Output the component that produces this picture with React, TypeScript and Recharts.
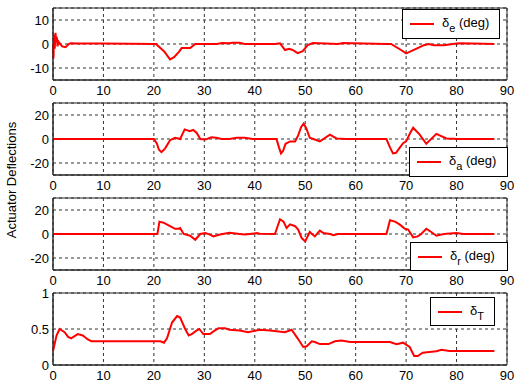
import React from 'react';
import { LineChart, Line, XAxis, YAxis, CartesianGrid, Legend, ReferenceArea } from 'recharts';

// time axis (s) shared by every panel
const timeTicks = [0, 10, 20, 30, 40, 50, 60, 70, 80, 90];

// elevator deflection, deg
const elevatorTime = [0, 0.1, 0.2, 0.35, 0.5, 0.6, 0.75, 0.9, 1.1, 1.8, 2.5, 3.1, 3.5, 5, 10, 20, 20.4, 22, 23.2, 24, 25, 25.5, 27.2, 28.2, 30, 32.5, 33.5, 35, 35.5, 37, 38, 44, 45, 46, 46.8, 47.5, 48.5, 49.5, 50.5, 51.5, 56.5, 57.5, 66, 67, 69, 70, 71, 72.5, 73.5, 74.5, 75.5, 77.5, 80, 81, 87.5];
const elevatorDeg = [0, -6, 4, -2, 4.7, 1, 3, -1, 1, -1, -1.3, 0, 0.3, 0.2, 0.2, 0, 0, -3, -6.4, -5.5, -3.2, -1.7, -1.7, 0, 0, 0, 0.4, 0.3, 0.5, 0.5, 0, 0, 0.3, -2.5, -2, -2.5, -3.8, -3, -0.5, 0.4, 0, 0.4, 0, 0, -2.5, -3.9, -3, -1.5, -0.5, 0, -0.5, -0.5, 0.2, 0.3, 0, 0];

// aileron deflection, deg
const aileronTime = [0, 20, 20.6, 21, 21.5, 22.2, 23.2, 24.2, 25.2, 26.1, 27.1, 27.8, 28.5, 29.2, 30.2, 31.4, 32.4, 33.4, 35, 36.4, 38, 39.6, 44.3, 44.8, 45.2, 45.6, 46.1, 47, 48, 48.6, 49.2, 49.7, 50.2, 50.9, 51.6, 52.9, 54.9, 56.2, 58.1, 66.1, 66.8, 67.4, 68, 68.6, 69.4, 70, 70.8, 71.4, 72.7, 74, 76, 78, 80.3, 87.5];
const aileronDeg = [0, 0, -4, -9, -11, -8, -1, 1, 0, 8, 6.5, 7.5, 5, 0, -0.5, 1.5, 1, 0, 0, 1, 1, 0, 0, -7, -12, -10, -4, -2, -2, 3, 10, 12.8, 9, 1, 0, -2, 3.7, 0.5, 0, 0, -7, -12, -11.5, -8, -3.5, -2, 5, 9.4, 3.7, -4, 4.3, 0.5, 0, 0];

// rudder deflection, deg
const rudderTime = [0, 20.3, 20.7, 21.1, 21.9, 23.2, 24.2, 24.8, 25.2, 25.9, 27.2, 28.2, 29.2, 30.2, 31.1, 31.8, 33.1, 35, 37, 38, 39, 40.4, 41, 44, 45, 45.7, 46.3, 47, 48, 48.6, 49.3, 50, 50.9, 51.9, 52.9, 53.6, 54.9, 55.6, 56.5, 66.1, 66.8, 67.8, 68.7, 69.7, 70.4, 71.4, 72.3, 73, 74, 75, 76, 77, 78, 80, 81.3, 87.5];
const rudderDeg = [0, 0, 0, 10.3, 9.4, 6.5, 4.3, 4.3, 5, 0, -1.4, -4.8, 0, 0.8, -0.5, -2, -0.5, 1, 0, -0.5, 0, 0.8, 0.3, 0, 12.3, 10.3, 5, 8, 6.5, 3.7, -3.4, -6.2, 1.7, -2, 2.8, 0.8, 0, -1, 0, 0, 11.4, 10.3, 8, 4.5, 3.7, -2.8, -2, 0, 4.3, 1.7, -1.4, -0.5, 0.3, 0.8, 0, 0];

// throttle setting, normalised
const throttleTime = [0, 0.7, 1.3, 2.3, 3, 3.6, 4.9, 5.9, 6.9, 7.6, 21.3, 22, 22.6, 23.6, 24.6, 25.2, 26.2, 26.9, 27.5, 28.5, 29, 29.8, 31.1, 32.1, 32.8, 34.1, 35, 37, 38.7, 41, 43, 46, 47.3, 48.6, 49.6, 50.3, 51.3, 51.9, 52.9, 54.6, 55.9, 57.2, 58.9, 66.8, 68.1, 69.4, 70.7, 71.6, 72.3, 73.3, 74.6, 76, 77, 78.6, 87.5];
const throttleVal = [0.195, 0.41, 0.5, 0.455, 0.39, 0.37, 0.43, 0.41, 0.355, 0.33, 0.33, 0.31, 0.37, 0.59, 0.68, 0.66, 0.5, 0.41, 0.43, 0.48, 0.5, 0.43, 0.43, 0.48, 0.51, 0.51, 0.49, 0.48, 0.455, 0.49, 0.48, 0.455, 0.49, 0.36, 0.25, 0.26, 0.33, 0.32, 0.29, 0.29, 0.33, 0.34, 0.32, 0.32, 0.29, 0.31, 0.25, 0.125, 0.125, 0.17, 0.18, 0.19, 0.21, 0.195, 0.195];

const FONT = '"Liberation Sans", Arial, Helvetica, sans-serif';
const AXIS = '#262626';

const toPoints = (t: number[], v: number[]) => t.map((x, i) => ({ t: x, v: v[i] }));

type LegendSpec = { left: number; top: number; width: number; height: number; sub: string; unit: string };

const LegendBox = ({ spec }: { spec: LegendSpec }) => (
  <div
    style={{
      position: 'relative',
      width: spec.width,
      height: spec.height,
      boxSizing: 'border-box',
      border: '1px solid #000',
      background: '#fff',
      fontFamily: FONT,
      fontSize: 13,
      color: '#000',
    }}
  >
    <div style={{ position: 'absolute', left: 7, width: 24, top: spec.height / 2 - 2, height: 2, background: '#ff0000' }} />
    <span style={{ position: 'absolute', left: 39, top: spec.height / 2 - 10, whiteSpace: 'nowrap', lineHeight: '16px' }}>
      δ<span style={{ fontSize: 11, position: 'relative', top: 5 }}>{spec.sub}</span>
      {spec.unit}
    </span>
  </div>
);

type PanelProps = {
  top: number;
  data: { t: number; v: number }[];
  domain: [number, number];
  ticks: number[];
  legend: LegendSpec;
};

const Panel = ({ top, data, domain, ticks, legend }: PanelProps) => (
  <div style={{ position: 'absolute', left: 0, top }}>
    <LineChart width={514} height={100} data={data} margin={{ top: 8, right: 7, bottom: 0, left: 0 }}>
      <CartesianGrid stroke="#333" strokeDasharray="3 3" />
      <XAxis
        dataKey="t"
        type="number"
        domain={[0, 90]}
        ticks={timeTicks}
        height={20}
        stroke={AXIS}
        tickLine={false}
        tickSize={6}
        tickMargin={0}
        tick={{ fill: '#000', fontSize: 13, fontFamily: FONT }}
        interval={0}
      />
      <YAxis
        type="number"
        domain={domain}
        ticks={ticks}
        width={53}
        stroke={AXIS}
        tickLine={false}
        tickSize={4}
        tickMargin={0}
        tick={{ fill: '#000', fontSize: 13, fontFamily: FONT }}
        interval={0}
      />
      <Line type="linear" dataKey="v" stroke="#ff0000" strokeWidth={2} dot={false} isAnimationActive={false} />
      <ReferenceArea x1={0} x2={90} y1={domain[0]} y2={domain[1]} fill="none" stroke={AXIS} strokeWidth={1} />
      <Legend
        layout="horizontal"
        verticalAlign="middle"
        align="center"
        wrapperStyle={{ left: legend.left, top: legend.top, width: legend.width, height: legend.height }}
        content={() => <LegendBox spec={legend} />}
      />
    </LineChart>
  </div>
);

export default function App() {
  return (
    <div style={{ position: 'absolute', left: 0, top: 0, width: 514, height: 387, background: '#fff', fontFamily: FONT }}>
      <Panel
        top={0}
        data={toPoints(elevatorTime, elevatorDeg)}
        domain={[-15, 15]}
        ticks={[-10, 0, 10]}
        legend={{ left: 402, top: 9, width: 98, height: 30, sub: 'e', unit: ' (deg)' }}
      />
      <Panel
        top={95}
        data={toPoints(aileronTime, aileronDeg)}
        domain={[-30, 30]}
        ticks={[-20, 0, 20]}
        legend={{ left: 409, top: 52, width: 99, height: 30, sub: 'a', unit: ' (deg)' }}
      />
      <Panel
        top={190}
        data={toPoints(rudderTime, rudderDeg)}
        domain={[-30, 30]}
        ticks={[-20, 0, 20]}
        legend={{ left: 410, top: 52, width: 98, height: 29, sub: 'r', unit: ' (deg)' }}
      />
      <Panel
        top={285}
        data={toPoints(throttleTime, throttleVal)}
        domain={[0, 1]}
        ticks={[0, 0.5, 1]}
        legend={{ left: 430, top: 12, width: 65, height: 29, sub: 'T', unit: '' }}
      />
      <div
        style={{
          position: 'absolute',
          left: 11,
          top: 180,
          transform: 'translate(-50%, -50%) rotate(-90deg)',
          whiteSpace: 'nowrap',
          fontSize: 13,
          color: '#000',
        }}
      >
        Actuator Deflections
      </div>
    </div>
  );
}
